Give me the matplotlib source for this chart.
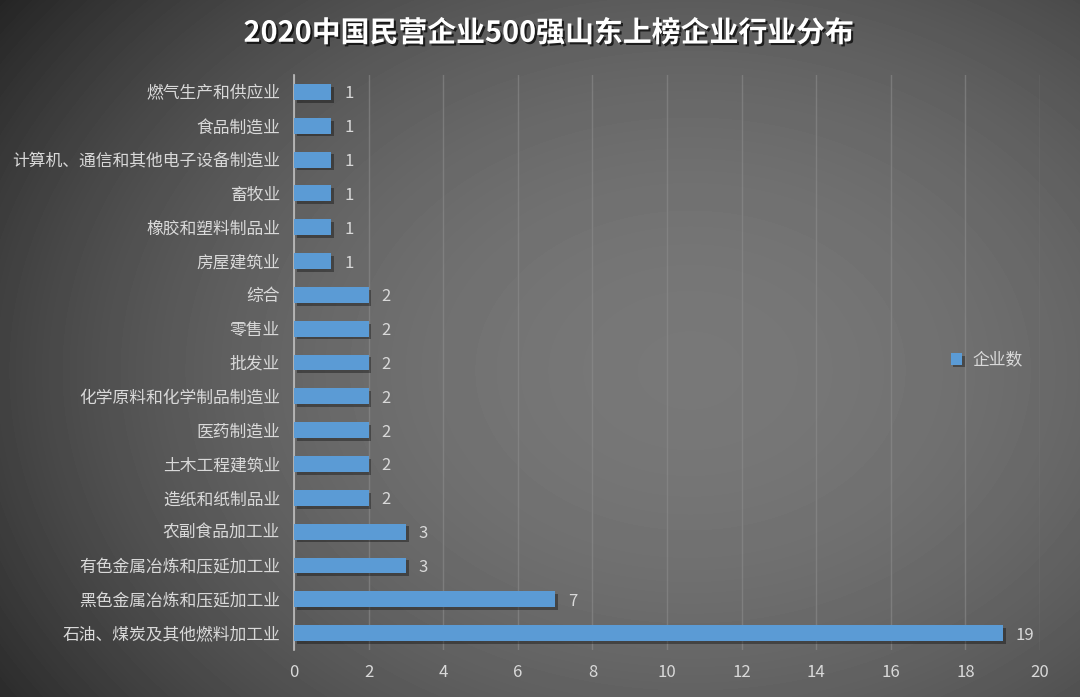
import numpy as np
import matplotlib
matplotlib.use("Agg")
import matplotlib.pyplot as plt
import matplotlib.patheffects as pe

plt.rcParams['font.family'] = ['Noto Sans CJK SC', 'DejaVu Sans']

# data, bottom to top as drawn
industries = [
    '石油、煤炭及其他燃料加工业', '黑色金属冶炼和压延加工业', '有色金属冶炼和压延加工业',
    '农副食品加工业', '造纸和纸制品业', '土木工程建筑业', '医药制造业',
    '化学原料和化学制品制造业', '批发业', '零售业', '综合', '房屋建筑业',
    '橡胶和塑料制品业', '畜牧业', '计算机、通信和其他电子设备制造业',
    '食品制造业', '燃气生产和供应业',
]
counts = [19, 7, 3, 3, 2, 2, 2, 2, 2, 2, 2, 1, 1, 1, 1, 1, 1]
series_name = '企业数'
title = '2020中国民营企业500强山东上榜企业行业分布'

fig = plt.figure(figsize=(10.8, 6.97), dpi=100)

# radial gradient background
bg = fig.add_axes([0, 0, 1, 1])
yy, xx = np.mgrid[0:697, 0:1080]
r = np.sqrt(((xx - 690) / 700.0) ** 2 + ((yy - 370) / 520.0) ** 2)
shade = np.clip(0.47 - 0.22 * r ** 2, 0.12, 0.47)
bg.imshow(shade, cmap='gray', vmin=0, vmax=1, aspect='auto', extent=[0, 1, 0, 1])
bg.axis('off')

ax = fig.add_axes([0.2722, 0.0674, 0.6908, 0.825])
ax.patch.set_alpha(0)
y = np.arange(len(industries))
bars = ax.barh(y, counts, height=0.47, color='#5b9bd5', edgecolor='none',
               label=series_name, zorder=3)
for b in bars:
    b.set_path_effects([pe.SimplePatchShadow(offset=(2, -2), shadow_rgbFace='black', alpha=0.35),
                        pe.Normal()])

txt = '#d9d9d9'
for yi, v in zip(y, counts):
    ax.text(v + 0.35, yi, str(v), va='center_baseline', ha='left', color=txt, fontsize=12)

ax.set_xlim(0, 20)
ax.set_ylim(-0.5, len(industries) - 0.5)
ax.set_xticks(range(0, 21, 2))
ax.set_yticks(y)
ax.set_yticklabels(industries)
ax.tick_params(axis='both', length=0, colors=txt, labelsize=12.1)
ax.tick_params(axis='y', pad=10)
ax.tick_params(axis='x', pad=10)
ax.grid(axis='x', color='#8c8c8c', linewidth=1, alpha=0.6, zorder=0)
for s in ['top', 'right', 'bottom']:
    ax.spines[s].set_visible(False)
ax.spines['left'].set_color('#bfbfbf')
ax.spines['left'].set_linewidth(1.2)

leg = ax.legend(loc='center left', bbox_to_anchor=(0.86, 0.504), frameon=False,
                fontsize=12.1, handlelength=0.7, handleheight=0.7, handletextpad=0.6)
for t in leg.get_texts():
    t.set_color(txt)

fig.text(0.508, 0.953, title, ha='center', va='center', fontsize=20.8, fontweight='bold',
         color='white',
         path_effects=[pe.withSimplePatchShadow(offset=(1.5, -1.5), shadow_rgbFace='black', alpha=0.7)])

fig.savefig('out.png', dpi=100)
